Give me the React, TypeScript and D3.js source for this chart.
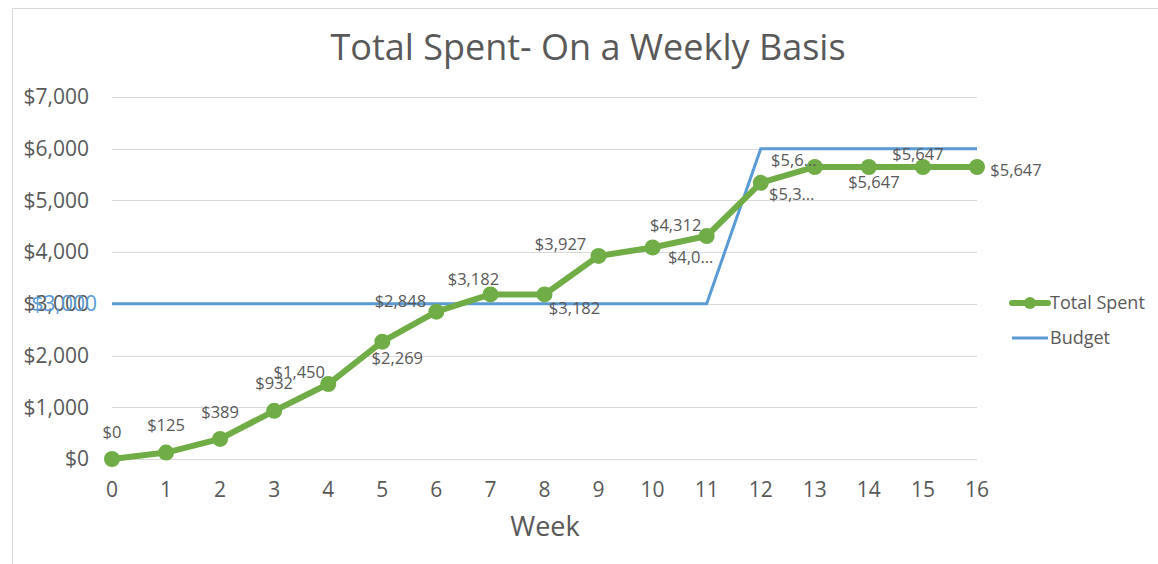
import React, { useEffect, useRef } from 'react';
import * as d3 from 'd3';

// chart data
const weeks = [0, 1, 2, 3, 4, 5, 6, 7, 8, 9, 10, 11, 12, 13, 14, 15, 16];
const totalSpent = [0, 125, 389, 932, 1450, 2269, 2848, 3182, 3182, 3927, 4090, 4312, 5340, 5647, 5647, 5647, 5647];
const budget = [3000, 3000, 3000, 3000, 3000, 3000, 3000, 3000, 3000, 3000, 3000, 3000, 6000, 6000, 6000, 6000, 6000];
const yTicks = [0, 1000, 2000, 3000, 4000, 5000, 6000, 7000];
const seriesNames = ['Total Spent', 'Budget'];
const title = 'Total Spent- On a Weekly Basis';
const xTitle = 'Week';

// Excel-ish label placement (offset of label centre from point), and labels cut short
const labelOffsets = [
    [0, -27], [0, -27], [0, -27], [0, -28], [-29, -12], [15, 17], [-36, -10], [-17, -15], [30, 14],
    [-38, -12], [38, 10], [-31, -11], [31, 11], [-21, -7], [5, 15], [-5, -13], [39, 3],
];
const truncatedLabels = [10, 12, 13];

const FONT = '"Open Sans", sans-serif';
const GREEN = '#70AD47';
const BLUE = '#5B9BD5';
const TEXT = '#595959';

const App = () => {
    const svgRef = useRef(null);

    useEffect(() => {
        const width = 1158;
        const height = 564;
        const margin = { top: 97, right: 181, bottom: 105, left: 112 };

        const svg = d3.select(svgRef.current);
        svg.selectAll('*').remove();
        svg.attr('width', width).attr('height', height).style('font-family', FONT);

        svg.append('rect').attr('width', width).attr('height', height).attr('fill', '#fff');
        svg.append('rect')
            .attr('x', 12.5).attr('y', 8.5)
            .attr('width', width).attr('height', height)
            .attr('fill', 'none').attr('stroke', '#D9D9D9');

        const x = d3.scaleLinear().domain([0, 16]).range([margin.left, width - margin.right]);
        const y = d3.scaleLinear().domain([0, 7000]).range([height - margin.bottom, margin.top]);
        const money = d3.format('$,');

        // gridlines
        svg.append('g')
            .selectAll('line')
            .data(yTicks)
            .enter()
            .append('line')
            .attr('x1', x(0)).attr('x2', x(16))
            .attr('y1', d => Math.round(y(d)) + 0.5).attr('y2', d => Math.round(y(d)) + 0.5)
            .attr('stroke', '#D9D9D9').attr('stroke-width', 1);

        // y axis labels
        svg.append('g')
            .selectAll('text')
            .data(yTicks)
            .enter()
            .append('text')
            .attr('x', 89)
            .attr('y', d => y(d))
            .attr('dy', '0.35em')
            .attr('text-anchor', 'end')
            .attr('fill', TEXT)
            .style('font-size', '21px')
            .text(d => money(d));

        // x axis labels
        svg.append('g')
            .selectAll('text')
            .data(weeks)
            .enter()
            .append('text')
            .attr('x', d => x(d))
            .attr('y', 490)
            .attr('dy', '0.35em')
            .attr('text-anchor', 'middle')
            .attr('fill', TEXT)
            .style('font-size', '21px')
            .text(d => d);

        // titles
        svg.append('text')
            .attr('x', 588).attr('y', 47).attr('dy', '0.35em')
            .attr('text-anchor', 'middle').attr('fill', TEXT)
            .style('font-size', '36px')
            .text(title);
        svg.append('text')
            .attr('x', 545).attr('y', 527).attr('dy', '0.35em')
            .attr('text-anchor', 'middle').attr('fill', TEXT)
            .style('font-size', '27px')
            .text(xTitle);

        // budget line
        const budgetLine = d3.line()
            .x((d, i) => x(weeks[i]))
            .y(d => y(d));
        svg.append('path')
            .datum(budget)
            .attr('d', budgetLine)
            .attr('fill', 'none')
            .attr('stroke', BLUE)
            .attr('stroke-width', 3);

        svg.append('text')
            .attr('x', x(0) - 15).attr('y', y(budget[0])).attr('dy', '0.35em')
            .attr('text-anchor', 'end').attr('fill', BLUE)
            .style('font-size', '21px')
            .text(money(budget[0]));

        // total spent line
        const spentLine = d3.line()
            .x((d, i) => x(weeks[i]))
            .y(d => y(d));
        svg.append('path')
            .datum(totalSpent)
            .attr('d', spentLine)
            .attr('fill', 'none')
            .attr('stroke', GREEN)
            .attr('stroke-width', 6)
            .attr('stroke-linejoin', 'round');

        svg.append('g')
            .selectAll('circle')
            .data(totalSpent)
            .enter()
            .append('circle')
            .attr('cx', (d, i) => x(weeks[i]))
            .attr('cy', d => y(d))
            .attr('r', 8)
            .attr('fill', GREEN);

        svg.append('g')
            .selectAll('text')
            .data(totalSpent)
            .enter()
            .append('text')
            .attr('x', (d, i) => x(weeks[i]) + labelOffsets[i][0])
            .attr('y', (d, i) => y(d) + labelOffsets[i][1])
            .attr('dy', '0.35em')
            .attr('text-anchor', 'middle')
            .attr('fill', TEXT)
            .style('font-size', '16.5px')
            .text((d, i) => {
                const label = money(d);
                return truncatedLabels.includes(i) ? `${label.substr(0, 4)}…` : label;
            });

        // legend
        const legend = svg.append('g').attr('transform', 'translate(1012, 303)');
        legend.append('line')
            .attr('x1', 0).attr('x2', 36).attr('y1', 0).attr('y2', 0)
            .attr('stroke', GREEN).attr('stroke-width', 6).attr('stroke-linecap', 'round');
        legend.append('circle').attr('cx', 18).attr('cy', 0).attr('r', 6).attr('fill', GREEN);
        legend.append('line')
            .attr('x1', 0).attr('x2', 36).attr('y1', 35).attr('y2', 35)
            .attr('stroke', BLUE).attr('stroke-width', 3);
        legend.selectAll('text')
            .data(seriesNames)
            .enter()
            .append('text')
            .attr('x', 38)
            .attr('y', (d, i) => i * 35)
            .attr('dy', '0.35em')
            .attr('fill', TEXT)
            .style('font-size', '18px')
            .text(d => d);
    }, []);

    return (
        <div style={{ position: 'absolute', left: 0, top: 0 }}>
            <svg ref={svgRef} style={{ display: 'block' }}></svg>
        </div>
    );
};

export default App;
